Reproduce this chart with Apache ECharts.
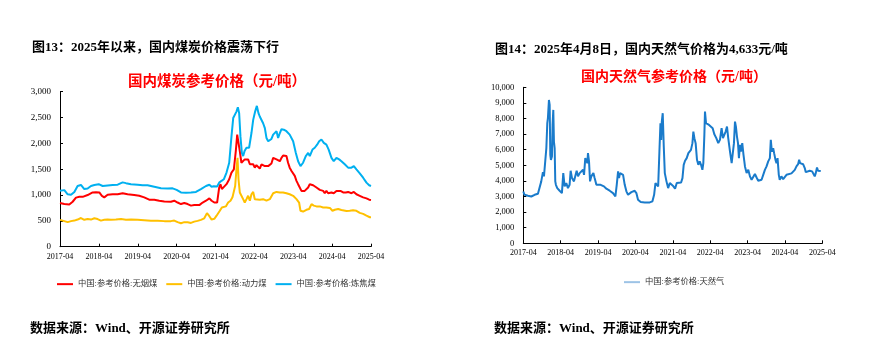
<!DOCTYPE html>
<html><head><meta charset="utf-8">
<script src="https://cdn.jsdelivr.net/npm/echarts@6/dist/echarts.min.js"></script>
<style>html,body{margin:0;padding:0;background:#fff}#c{width:883px;height:342px}</style>
</head><body><div id="c"></div>
<script>
// ---------- Data ----------
const xTickLabels = ['2017-04','2018-04','2019-04','2020-04','2021-04','2022-04','2023-04','2024-04','2025-04'];
const coalNames = ['中国:参考价格:无烟煤','中国:参考价格:动力煤','中国:参考价格:炼焦煤'];
const gasName = '中国:参考价格:天然气';

const anthraciteDates = ['2017-04-01','2017-05-11','2017-06-27','2017-07-28','2017-08-29','2017-09-30','2017-11-01','2017-12-17','2018-02-03','2018-03-04','2018-04-05','2018-04-29','2018-05-21','2018-06-22','2018-08-09','2018-09-25','2018-11-11','2018-12-27','2019-02-28','2019-04-15','2019-06-01','2019-07-17','2019-09-04','2019-10-20','2019-12-07','2020-02-08','2020-03-09','2020-04-10','2020-05-11','2020-06-12','2020-07-13','2020-08-14','2020-09-14','2020-11-01','2020-12-02','2021-01-03','2021-02-04','2021-02-25','2021-03-20','2021-04-16','2021-05-05','2021-05-17','2021-05-30','2021-06-18','2021-07-13','2021-08-08','2021-08-29','2021-09-21','2021-10-09','2021-10-22','2021-11-04','2021-11-16','2021-12-01','2021-12-17','2022-01-02','2022-01-18','2022-02-03','2022-02-19','2022-03-04','2022-03-20','2022-04-05','2022-04-20','2022-05-06','2022-05-21','2022-06-07','2022-06-22','2022-07-08','2022-07-23','2022-08-09','2022-08-24','2022-09-09','2022-09-25','2022-10-10','2022-10-26','2022-11-11','2022-11-27','2022-12-12','2022-12-27','2023-01-13','2023-01-28','2023-02-13','2023-02-28','2023-03-15','2023-03-30','2023-04-15','2023-05-01','2023-05-16','2023-06-01','2023-06-17','2023-07-02','2023-07-17','2023-08-03','2023-08-19','2023-09-04','2023-09-20','2023-10-05','2023-10-20','2023-11-06','2023-11-21','2023-12-07','2024-01-08','2024-01-23','2024-02-08','2024-02-24','2024-03-10','2024-03-25','2024-04-16','2024-05-11','2024-05-27','2024-06-18','2024-07-13','2024-08-08','2024-08-29','2024-09-30','2024-10-22','2024-11-16','2024-12-17','2025-01-18','2025-02-19','2025-03-14','2025-04-01'];
const anthraciteValues = [845,825,815,870,950,965,965,1000,1050,1055,1050,985,955,1005,1015,1015,1035,1015,1000,985,955,910,910,890,875,870,890,855,825,845,825,795,805,805,855,890,935,890,855,855,1145,1210,1115,1145,1210,1305,1435,1495,1850,2170,2010,1850,1625,1595,1690,1700,1690,1595,1625,1595,1530,1580,1560,1510,1595,1625,1560,1530,1560,1595,1610,1720,1740,1690,1690,1655,1720,1765,1785,1755,1625,1530,1465,1445,1370,1275,1210,1175,1080,1060,1080,1115,1145,1210,1240,1190,1190,1145,1115,1100,1080,1035,1080,1035,1015,1050,1035,1080,1060,1080,1050,1050,1060,1035,1060,1015,985,955,935,910,905];

const thermalDates = ['2017-04-01','2017-05-11','2017-06-12','2017-07-13','2017-08-14','2017-09-14','2017-10-15','2017-11-16','2017-12-17','2018-01-18','2018-02-19','2018-03-19','2018-04-20','2018-05-21','2018-06-22','2018-07-23','2018-09-09','2018-10-26','2018-12-12','2019-01-28','2019-03-30','2019-06-01','2019-08-03','2019-10-05','2019-12-07','2020-02-08','2020-03-09','2020-04-10','2020-05-11','2020-06-12','2020-07-13','2020-08-14','2020-09-14','2020-10-15','2020-11-16','2020-12-17','2021-01-12','2021-02-04','2021-02-25','2021-03-20','2021-04-11','2021-05-11','2021-05-30','2021-06-18','2021-07-07','2021-07-28','2021-08-20','2021-09-08','2021-09-21','2021-10-03','2021-10-15','2021-10-25','2021-11-04','2021-11-16','2021-12-01','2021-12-17','2022-01-02','2022-01-18','2022-02-03','2022-02-19','2022-03-04','2022-03-20','2022-04-05','2022-04-20','2022-05-21','2022-06-22','2022-07-23','2022-08-24','2022-09-25','2022-10-26','2022-11-27','2022-12-27','2023-01-28','2023-02-28','2023-03-30','2023-05-01','2023-05-25','2023-06-08','2023-07-02','2023-08-03','2023-08-28','2023-09-20','2023-10-11','2023-11-06','2023-12-07','2024-01-08','2024-02-08','2024-03-10','2024-04-04','2024-04-26','2024-05-27','2024-06-27','2024-08-14','2024-09-14','2024-10-15','2024-11-16','2024-12-17','2025-01-18','2025-02-19','2025-03-20','2025-04-01'];
const thermalValues = [520,495,475,495,505,525,555,520,535,525,550,535,505,520,525,520,525,535,520,525,520,510,500,500,495,495,505,475,455,475,475,460,485,500,520,550,650,590,525,540,600,695,760,730,780,855,890,955,985,1175,1495,1720,1305,1050,1015,920,855,920,985,890,1015,1060,920,890,910,920,890,920,1035,1060,1050,1050,1035,1015,985,920,855,695,680,715,730,825,795,780,780,760,760,750,695,715,730,710,690,695,705,695,655,635,600,570,570];

const cokingDates = ['2017-04-01','2017-05-11','2017-06-12','2017-07-13','2017-08-14','2017-09-14','2017-10-15','2017-11-16','2017-12-17','2018-01-18','2018-02-19','2018-03-29','2018-05-06','2018-06-22','2018-08-09','2018-09-25','2018-11-11','2018-12-12','2019-01-28','2019-03-30','2019-05-16','2019-07-02','2019-09-04','2019-11-06','2020-01-08','2020-02-24','2020-04-01','2020-05-11','2020-06-27','2020-08-14','2020-09-30','2020-11-16','2021-01-03','2021-02-04','2021-02-25','2021-03-15','2021-04-01','2021-04-16','2021-05-05','2021-05-27','2021-06-18','2021-07-13','2021-08-08','2021-08-29','2021-09-15','2021-09-30','2021-10-15','2021-10-28','2021-11-10','2021-11-22','2021-12-05','2021-12-17','2021-12-30','2022-01-18','2022-02-12','2022-03-04','2022-03-20','2022-04-08','2022-04-24','2022-05-09','2022-05-21','2022-06-07','2022-06-22','2022-07-08','2022-07-23','2022-08-09','2022-08-24','2022-09-09','2022-09-25','2022-10-10','2022-10-26','2022-11-11','2022-11-27','2022-12-12','2023-01-03','2023-01-28','2023-02-28','2023-03-30','2023-04-25','2023-05-16','2023-06-08','2023-07-02','2023-07-27','2023-08-19','2023-09-04','2023-09-29','2023-10-20','2023-11-12','2023-12-01','2023-12-22','2024-01-14','2024-02-08','2024-02-29','2024-03-25','2024-04-16','2024-05-11','2024-06-06','2024-06-27','2024-07-28','2024-08-29','2024-09-30','2024-10-22','2024-11-16','2024-12-17','2025-01-18','2025-02-19','2025-03-14','2025-04-01'];
const cokingValues = [1085,1095,1015,1005,1060,1175,1195,1115,1125,1175,1195,1210,1175,1185,1195,1200,1245,1230,1210,1200,1190,1190,1160,1130,1125,1130,1100,1050,1045,1050,1060,1115,1175,1200,1160,1170,1175,1165,1240,1275,1305,1435,1625,2135,2490,2490,2615,2700,2585,2135,1815,1755,1850,1915,1915,2200,2455,2615,2725,2585,2520,2490,2390,2295,2105,2040,2075,2085,2170,2135,2235,2105,2200,2275,2265,2235,2170,2040,1815,1655,1560,1625,1755,1815,1755,1880,1915,1975,2040,2075,2010,1975,1880,1720,1655,1720,1690,1655,1595,1530,1530,1560,1495,1420,1335,1240,1190,1175];

const gasDates = ['2017-04-01','2017-04-13','2017-05-16','2017-06-18','2017-07-20','2017-08-22','2017-09-11','2017-09-24','2017-10-10','2017-10-20','2017-11-03','2017-11-13','2017-11-22','2017-11-28','2017-12-08','2017-12-15','2017-12-21','2017-12-27','2018-01-07','2018-01-13','2018-01-20','2018-01-26','2018-02-03','2018-02-09','2018-02-15','2018-02-28','2018-03-21','2018-04-13','2018-04-26','2018-05-09','2018-05-25','2018-06-11','2018-06-27','2018-07-07','2018-07-20','2018-08-09','2018-08-22','2018-09-05','2018-09-18','2018-10-04','2018-10-20','2018-11-06','2018-11-16','2018-11-28','2018-12-11','2018-12-18','2018-12-24','2019-01-04','2019-01-14','2019-01-26','2019-02-16','2019-02-28','2019-03-15','2019-04-01','2019-04-26','2019-05-09','2019-05-28','2019-06-21','2019-07-23','2019-08-25','2019-09-18','2019-10-01','2019-10-14','2019-10-23','2019-11-03','2019-11-16','2019-12-02','2019-12-18','2020-01-04','2020-01-20','2020-02-22','2020-03-24','2020-04-10','2020-04-26','2020-05-22','2020-07-01','2020-08-19','2020-09-15','2020-10-01','2020-10-14','2020-10-26','2020-11-10','2020-11-22','2020-12-02','2020-12-09','2020-12-15','2020-12-24','2021-01-04','2021-01-14','2021-01-30','2021-02-16','2021-03-02','2021-03-21','2021-04-07','2021-04-23','2021-05-09','2021-05-25','2021-06-21','2021-07-04','2021-07-16','2021-07-29','2021-08-15','2021-09-01','2021-09-14','2021-09-26','2021-10-10','2021-10-19','2021-10-29','2021-11-11','2021-11-24','2021-12-07','2021-12-20','2022-01-03','2022-01-16','2022-01-25','2022-02-05','2022-02-11','2022-02-21','2022-03-07','2022-03-20','2022-04-09','2022-04-25','2022-05-11','2022-05-30','2022-06-19','2022-07-05','2022-07-21','2022-08-04','2022-08-17','2022-08-30','2022-09-13','2022-09-25','2022-10-12','2022-10-28','2022-11-10','2022-11-20','2022-11-30','2022-12-09','2022-12-19','2022-12-29','2023-01-08','2023-01-18','2023-01-27','2023-02-10','2023-02-22','2023-03-06','2023-03-22','2023-04-08','2023-04-24','2023-05-10','2023-05-26','2023-06-12','2023-06-28','2023-07-14','2023-07-30','2023-08-16','2023-09-02','2023-09-18','2023-10-04','2023-10-20','2023-11-06','2023-11-15','2023-11-25','2023-12-08','2023-12-17','2023-12-30','2024-01-10','2024-01-20','2024-02-02','2024-02-11','2024-02-27','2024-03-14','2024-03-30','2024-04-16','2024-05-02','2024-06-04','2024-06-20','2024-07-06','2024-07-22','2024-08-08','2024-08-18','2024-08-27','2024-09-10','2024-09-26','2024-10-12','2024-10-22','2024-11-08','2024-11-30','2024-12-23','2025-01-05','2025-01-18','2025-01-28','2025-02-10','2025-02-20','2025-03-06','2025-03-16'];
const gasValues = [3320,3110,3050,3000,3110,3180,3110,3970,4560,4290,4390,6100,7700,8020,9190,8870,5670,5350,5570,7590,8550,6520,6100,3970,3750,3540,3370,3220,4500,3650,3860,3540,3750,4650,4180,3970,4070,4650,4290,4500,4390,4710,4390,5460,5570,5140,5780,5250,3970,4290,4500,4180,3750,3650,3750,3800,3650,3500,3370,3220,3010,3750,4610,4180,4500,4560,4390,3750,3330,3110,3280,3370,3220,2790,2640,2620,2620,2690,3110,3860,3800,3650,5880,7700,6630,7800,8340,6200,4500,3970,3540,3860,3750,3650,3500,3860,3900,3900,4180,5030,5290,5460,5780,5670,5990,6420,7160,6740,6420,5350,5030,5250,5030,4710,5140,6950,8440,7700,7800,7590,7630,7380,6990,6740,6420,6630,7380,6740,6840,7160,7480,6740,5880,5140,5030,6420,7800,7480,6840,6420,5460,6310,5880,6420,5670,4930,4500,4710,4290,4070,4180,4440,4220,4010,3970,4070,4390,4710,4930,5250,5460,6630,5880,6100,5780,5350,5140,5460,4390,4070,4290,4110,4180,4390,4440,4480,4560,4710,4930,5070,5350,5140,5030,5070,4820,4560,4610,4650,4610,4500,4290,4500,4860,4650,4710,4633];

// ---------- helpers ----------
function toMonths(s){ const p = s.split('-').map(Number); return (p[0]-2017)*12 + (p[1]-4) + (p[2]-1)/30; }
function pairs(dates, vals){ return dates.map((d,i)=>[toMonths(d), vals[i]]); }
const serif = 'Liberation Serif, "Noto Sans CJK SC", serif';
const cjk = 'Liberation Serif, "Noto Sans CJK SC", sans-serif';

function xAxisCfg(gi){
  return {gridIndex: gi, type:'value', min:0, max:96, interval:12,
    axisLine:{show:true, lineStyle:{color:'#000', width:1}},
    axisTick:{show:true, inside:true, length:3, lineStyle:{color:'#000'}},
    splitLine:{show:false},
    axisLabel:{fontFamily:serif, fontSize:8, color:'#000', margin:6,
      formatter:(v)=> xTickLabels[Math.round(v/12)] || ''}};
}
function yAxisCfg(gi, max, interval, fs){
  return {gridIndex: gi, type:'value', min:0, max:max, interval:interval,
    axisLine:{show:true, lineStyle:{color:'#000', width:1}},
    axisTick:{show:true, inside:true, length:3, lineStyle:{color:'#000'}},
    splitLine:{show:false},
    axisLabel:{fontFamily:serif, fontSize:fs, color:'#000', margin:9,
      formatter:(v)=> v.toLocaleString('en-US')}};
}
function lineSeries(name, data, color, xi, width){
  return {name, type:'line', xAxisIndex:xi, yAxisIndex:xi, data, showSymbol:false, symbol:'none',
    smooth:false, lineStyle:{color, width:width}, itemStyle:{color}, animation:false};
}

const chart = echarts.init(document.getElementById('c'), null, {renderer:'canvas'});
chart.setOption({
  backgroundColor:'#fff',
  animation:false,
  title:[
    {text:'图13：2025年以来，国内煤炭价格震荡下行', left:27, top:36,
      textStyle:{fontFamily:cjk, fontSize:13, fontWeight:'bold', color:'#000'}},
    {text:'国内煤炭参考价格（元/吨）', left:212, top:70, textAlign:'center',
      textStyle:{fontFamily:cjk, fontSize:14.5, fontWeight:'bold', color:'#FF0000'}},
    {text:'数据来源：Wind、开源证券研究所', left:25, top:317,
      textStyle:{fontFamily:cjk, fontSize:13, fontWeight:'bold', color:'#000'}},
    {text:'图14：2025年4月8日，国内天然气价格为4,633元/吨', left:490, top:38,
      textStyle:{fontFamily:cjk, fontSize:13, fontWeight:'bold', color:'#000'}},
    {text:'国内天然气参考价格（元/吨）', left:669, top:65, textAlign:'center',
      textStyle:{fontFamily:cjk, fontSize:14, fontWeight:'bold', color:'#FF0000'}},
    {text:'数据来源：Wind、开源证券研究所', left:489, top:317,
      textStyle:{fontFamily:cjk, fontSize:13, fontWeight:'bold', color:'#000'}}
  ],
  legend:[
    {data:coalNames, left:57, top:280, padding:0, itemWidth:16, itemHeight:2, itemGap:9, icon:'rect',
      itemStyle:{borderWidth:0},
      textStyle:{fontFamily:cjk, fontSize:8.3, color:'#333'}},
    {data:[{name:gasName, itemStyle:{color:'#9DC3E6'}}], left:624, top:278, padding:0, itemWidth:16, itemHeight:2, icon:'rect',
      itemStyle:{borderWidth:0},
      textStyle:{fontFamily:cjk, fontSize:8.3, color:'#333'}}
  ],
  grid:[
    {left:60, right:512, top:91.7, bottom:95.3, containLabel:false},
    {left:523.3, right:60.7, top:87.3, bottom:98.7, containLabel:false}
  ],
  xAxis:[xAxisCfg(0), xAxisCfg(1)],
  yAxis:[yAxisCfg(0, 3000, 500, 9), yAxisCfg(1, 10000, 1000, 8.5)],
  series:[
    lineSeries(coalNames[0], pairs(anthraciteDates, anthraciteValues), '#FF0000', 0, 2),
    lineSeries(coalNames[1], pairs(thermalDates, thermalValues), '#FFC000', 0, 2),
    lineSeries(coalNames[2], pairs(cokingDates, cokingValues), '#00B0F0', 0, 2),
    lineSeries(gasName, pairs(gasDates, gasValues), '#1A7BCB', 1, 2)
  ]
});
</script></body></html>
